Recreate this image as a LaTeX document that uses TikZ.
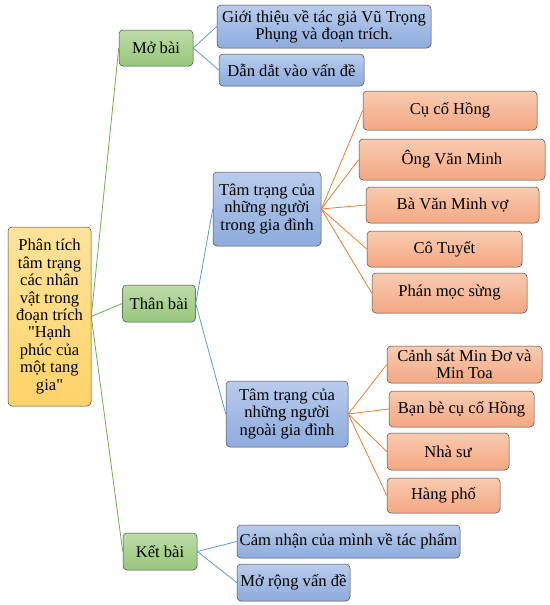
\documentclass[tikz,border=0pt]{standalone}
\usepackage{fontspec}
\setmainfont{Liberation Serif}
\definecolor{rootTop}{HTML}{FFE39A}
\definecolor{rootBot}{HTML}{FFD36A}
\definecolor{greenTop}{HTML}{BDDCA8}
\definecolor{greenBot}{HTML}{97C67C}
\definecolor{blueTop}{HTML}{B9CCEC}
\definecolor{blueBot}{HTML}{8DABDD}
\definecolor{orangeTop}{HTML}{F9CBB0}
\definecolor{orangeBot}{HTML}{F4A783}
\definecolor{greenLine}{HTML}{70AD47}
\definecolor{blueLine}{HTML}{5B9BD5}
\definecolor{orangeLine}{HTML}{ED7D31}

\begin{document}
\begin{tikzpicture}[x=1pt,y=-1pt,
    box/.style={draw=gray!55!black,line width=0.5pt,rounded corners=4pt,align=center,
        inner sep=2pt,font=\fontsize{16.6}{17.4}\selectfont},
    rootbox/.style={box,top color=rootTop,bottom color=rootBot},
    partbox/.style={box,top color=greenTop,bottom color=greenBot},
    bluebox/.style={box,top color=blueTop,bottom color=blueBot},
    orangebox/.style={box,top color=orangeTop,bottom color=orangeBot},
    ]
        \useasboundingbox (0,0) rectangle (549,605);
        % goc
        \node[rootbox,minimum width=83,minimum height=179] (root) at (49.5,316.5)
            {Phân tích\\tâm trạng\\các nhân\\vật trong\\đoạn trích\\\textquotedbl Hạnh\\phúc của\\một tang\\gia\textquotedbl};
        % ba phan
        \node[partbox,minimum width=74,minimum height=36] (mo) at (156,48) {Mở bài};
        \node[partbox,minimum width=73,minimum height=37] (than) at (159,303.5) {Thân bài};
        \node[partbox,minimum width=74,minimum height=37] (ket) at (160,551.5) {Kết bài};
        % mo bai
        \node[bluebox,minimum width=214,minimum height=43] (gioithieu) at (324,26.5)
            {Giới thiệu về tác giả Vũ Trọng\\Phụng và đoạn trích.};
        \node[bluebox,minimum width=145,minimum height=32] (dandat) at (291.5,70) {Dẫn dắt vào vấn đề};
        % than bai
        \node[bluebox,minimum width=108,minimum height=74] (trong) at (267,209)
            {Tâm trạng của\\những người\\trong gia đình};
        \node[bluebox,minimum width=122,minimum height=66] (ngoai) at (287,414)
            {Tâm trạng của\\những người\\ngoài gia đình};
        \node[orangebox,minimum width=174,minimum height=39] (cu) at (450,110.5) {Cụ cố Hồng};
        \node[orangebox,minimum width=186,minimum height=41] (ong) at (452,159.5) {Ông Văn Minh};
        \node[orangebox,minimum width=173,minimum height=36] (ba) at (452.5,205) {Bà Văn Minh vợ};
        \node[orangebox,minimum width=155,minimum height=36] (co) at (444.5,249) {Cô Tuyết};
        \node[orangebox,minimum width=155,minimum height=40] (phan) at (449.5,293) {Phán mọc sừng};
        \node[orangebox,minimum width=155,minimum height=37] (canhsat) at (464.5,364.5)
            {Cảnh sát Min Đơ và\\Min Toa};
        \node[orangebox,minimum width=145,minimum height=36] (banbe) at (461.5,409) {Bạn bè cụ cố Hồng};
        \node[orangebox,minimum width=122,minimum height=37] (nhasu) at (448,451.5) {Nhà sư};
        \node[orangebox,minimum width=113,minimum height=35] (hangpho) at (443.5,495.5) {Hàng phố};
        % ket bai
        \node[bluebox,minimum width=223,minimum height=33] (camnhan) at (348.5,541.5)
            {Cảm nhận của mình về tác phẩm};
        \node[bluebox,minimum width=113,minimum height=37] (morong) at (293.5,582.5) {Mở rộng vấn đề};

        \foreach \p in {mo,than,ket}
        \draw[line width=0.8pt,greenLine] (root.east) -- (\p.west);
        \foreach \a/\b in {mo/gioithieu,mo/dandat,than/trong,than/ngoai,ket/camnhan,ket/morong}
        \draw[line width=0.8pt,blueLine] (\a.east) -- (\b.west);
        \foreach \b in {cu,ong,ba,co,phan}
        \draw[line width=0.8pt,orangeLine] (trong.east) -- (\b.west);
        \foreach \b in {canhsat,banbe,nhasu,hangpho}
        \draw[line width=0.8pt,orangeLine] (ngoai.east) -- (\b.west);
\end{tikzpicture}
\end{document}
